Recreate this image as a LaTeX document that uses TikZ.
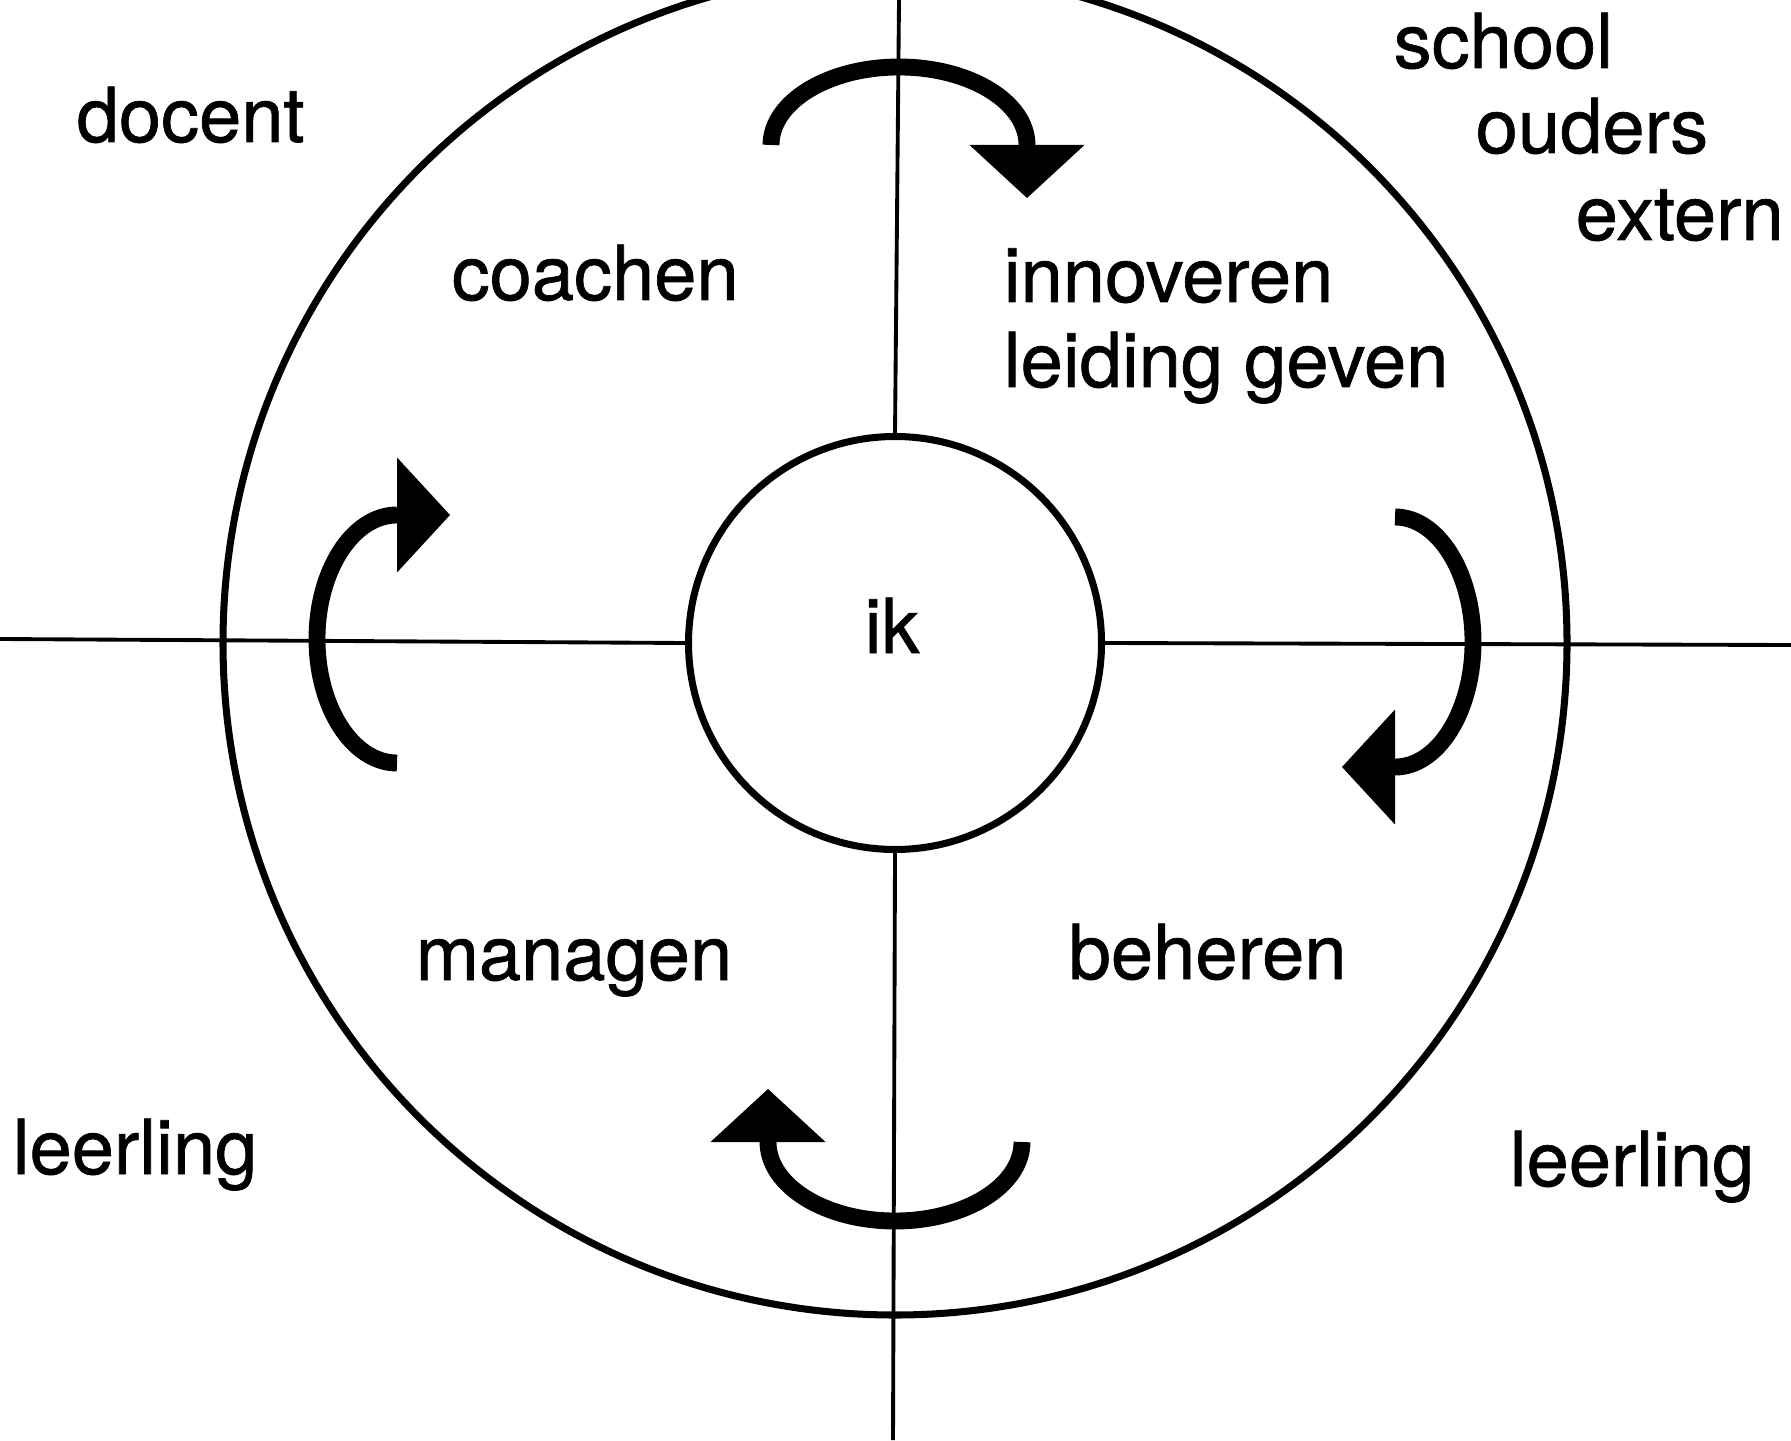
\documentclass[tikz,border=0pt]{standalone}
\usepackage{fontspec}
\setmainfont{TeX Gyre Heros}[FakeBold=0.9]
\usetikzlibrary{arrows.meta,positioning}

\begin{document}
\begin{tikzpicture}[
  word/.style={anchor=base west, inner sep=0pt, font=\fontsize{21.6}{25}\selectfont},
  ring/.style={circle, draw, line width=2pt, inner sep=0pt},
  axis/.style={line width=1.1pt},
  turn/.style={line width=4.8pt, -{Triangle[width=11.5mm, length=5.3mm, line width=0pt]}}]
\useasboundingbox (0,0) rectangle (17.91,14.40);
\coordinate (lft) at (0,8.01);
\coordinate (rgt) at (17.91,7.95);
\coordinate (up) at (8.99,14.40);
\coordinate (down) at (8.93,0);
\node[ring, minimum size=13.44cm] (buiten) at (8.95,7.97){};
\node[ring, minimum size=4.13cm] (kern) at (8.95,7.97){};
\node[word, anchor=base] (ik) at (8.92,7.87){ik};
\draw[axis] (lft) -- (kern.west);
\draw[axis] (kern.east) -- (rgt);
\draw[axis] (up) -- (kern.north);
\draw[axis] (kern.south) -- (down);
\node[word] (docent) at (0.76,12.98){docent};
\node[word] (school) at (13.93,13.72){school};
\node[word] (ouders) at (14.75,12.87){ouders};
\node[word] (extern) at (15.75,12.00){extern};
\node[word] (coachen) at (4.51,11.40){coachen};
\node[word] (innoveren) at (10.03,11.38){innoveren};
\node[word] (leiding) at (10.03,10.53){leiding geven};
\node[word] (managen) at (4.15,4.60){managen};
\node[word] (beheren) at (10.68,4.61){beheren};
\node[word] (leerlingL) at (0.12,2.66){leerling};
\node[word] (leerlingR) at (15.09,2.54){leerling};
\draw[turn] (7.71,12.95) arc[start angle=180, end angle=0, x radius=1.28, y radius=0.78] -- ++(0,-0.53);
\draw[turn] (13.95,9.23) arc[start angle=90, end angle=-90, x radius=0.78, y radius=1.25] -- ++(-0.53,0);
\draw[turn] (10.22,2.98) arc[start angle=0, end angle=-180, x radius=1.27, y radius=0.79] -- ++(0,0.53);
\draw[turn] (3.97,6.77) arc[start angle=-90, end angle=-270, x radius=0.80, y radius=1.24] -- ++(0.53,0);
\end{tikzpicture}
\end{document}
